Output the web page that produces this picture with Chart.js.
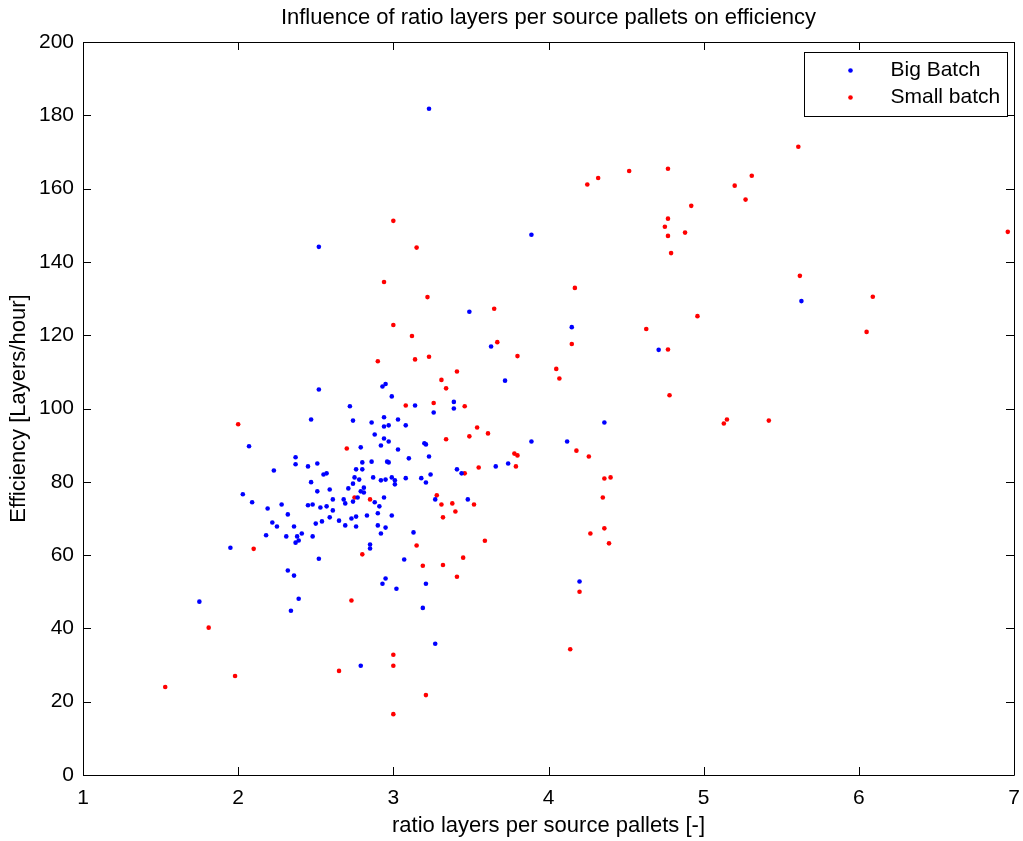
<!DOCTYPE html>
<html>
<head>
<meta charset="utf-8">
<title>Influence of ratio layers per source pallets on efficiency</title>
<script src="https://cdn.jsdelivr.net/npm/chart.js@4"></script>
<style>
  html, body { margin: 0; padding: 0; background: #fff; }
  #efficiencyChart { display: block; }
</style>
</head>
<body>
<canvas id="efficiencyChart" width="1023" height="841"></canvas>
<script>
// Big batch measurements: ratio layers per source pallet vs. layers/hour
const bigBatchRatio = [
    2.52, 2.47, 2.07, 2.37, 2.37, 2.45, 2.51, 2.23, 2.47, 2.51, 2.03,
    2.93, 2.95, 2.99, 2.72, 3.14, 3.39, 3.39, 3.26, 2.74, 2.86, 2.94, 2.94, 2.97, 3.03,
    3.08, 2.88, 2.94, 2.97, 2.92, 3.03, 2.79, 3.20, 3.21, 3.10, 3.23, 2.80, 2.86, 2.96,
    2.97, 2.76, 2.80, 3.41, 3.44, 3.24, 2.55, 2.57, 2.75, 2.78, 2.87, 2.92, 2.95, 2.99,
    3.01, 3.01, 3.08, 3.18, 3.21, 2.74, 2.81, 2.59, 2.71, 2.79, 2.81, 2.77, 2.94, 2.61,
    2.68, 3.27,
    2.09, 2.19, 2.28, 2.45, 2.48, 2.32, 2.22, 2.25, 2.36, 2.50, 2.18, 2.31, 2.38, 2.41,
    2.39, 2.37, 2.48, 1.95, 2.52, 2.32, 2.36, 2.39, 2.34, 1.75,
    2.69, 2.74, 3.48, 2.53, 2.57, 2.61, 2.59, 2.65, 2.73, 2.76, 2.83, 2.88, 2.91, 2.90,
    2.99, 2.54, 2.69, 2.76, 2.90, 2.95, 2.92, 3.13, 2.85, 2.85, 3.07, 2.95, 2.93, 3.02,
    3.21, 3.19,
    2.79, 3.27,
    3.23, 2.52, 3.89, 3.49,
    3.63, 4.71, 3.72, 3.89, 4.12, 4.36, 3.66, 3.74, 4.20,
    5.63, 4.15
];
const bigBatchEfficiency = [
    105.2, 97.0, 89.7, 86.7, 84.8, 84.2, 85.0, 83.1, 79.9, 77.4, 76.6,
    106.0, 106.7, 103.3, 100.6, 100.8, 101.8, 100.0, 98.9, 96.7, 96.2, 97.6, 95.1, 95.4, 97.0,
    95.4, 92.9, 91.8, 91.0, 89.9, 88.8, 89.4, 90.5, 90.2, 86.4, 86.9, 85.3, 85.5, 85.5,
    85.3, 83.4, 83.4, 83.4, 82.3, 82.0, 82.0, 82.3, 81.2, 80.6, 81.2, 80.4, 80.6, 81.2,
    80.4, 79.3, 81.0, 81.0, 79.8, 79.5, 78.4, 77.9, 78.2, 77.4, 77.1, 75.7, 75.7, 75.2,
    75.2, 75.2,
    74.4, 72.7, 73.8, 73.6, 73.8, 71.1, 68.9, 67.8, 67.8, 68.6, 65.4, 65.1, 65.1, 65.9,
    64.0, 63.4, 65.1, 62.0, 59.0, 55.8, 54.4, 48.1, 44.8, 47.3,
    74.1, 74.6, 75.2, 73.0, 73.3, 72.2, 70.3, 69.4, 70.0, 70.5, 70.8, 74.4, 73.3, 71.4,
    70.8, 69.2, 68.1, 67.8, 68.1, 67.5, 65.9, 66.2, 62.9, 61.8, 58.8, 53.6, 52.2, 50.8,
    52.2, 45.6,
    29.8, 35.8,
    181.8, 144.1, 147.4, 126.4,
    116.9, 116.0, 107.6, 91.0, 91.0, 96.2, 84.2, 85.0, 52.8,
    129.3, 122.2
];

// Small batch measurements
const smallBatchRatio = [
    2.00, 2.90, 3.14, 3.23, 3.41, 3.31, 3.34, 3.08, 3.26, 3.46, 2.70, 3.34, 3.49, 3.46,
    2.75, 2.85, 3.28,
    2.10, 1.81,
    3.31, 3.38, 3.40, 3.32, 2.80, 3.15, 3.19, 3.32, 3.45, 3.41, 2.73,
    1.53, 1.98, 2.65, 3.00, 3.00, 3.00, 3.21,
    3.00, 3.15, 2.94, 3.22, 3.65, 3.00, 3.12,
    3.67, 4.15, 3.80, 4.05, 4.07, 3.54, 3.61, 4.18, 4.26, 3.78, 3.80, 3.79, 3.55, 4.36,
    4.40, 4.35, 3.52, 4.36, 4.27, 4.39, 3.59, 4.20, 4.14,
    5.61, 4.25, 4.32, 4.52, 4.77, 5.20, 5.31, 5.27, 4.92, 4.77, 4.75, 4.77, 4.88, 4.79,
    5.62, 4.17, 4.96, 4.63, 4.77,
    6.05, 4.78, 5.13, 5.15, 5.42,
    6.96, 6.09
];
const smallBatchEfficiency = [
    95.7, 112.9, 113.4, 114.1, 110.1, 107.8, 105.5, 100.8, 101.5, 100.6, 89.1, 91.6, 92.4, 82.3,
    75.7, 75.2, 76.3,
    61.7, 40.2,
    73.8, 74.1, 71.9, 70.3, 60.2, 62.6, 57.1, 57.3, 59.3, 54.1, 47.6,
    24.0, 27.0, 28.4, 32.8, 29.8, 16.6, 21.8,
    151.2, 143.9, 134.5, 130.4, 127.2, 122.8, 119.8,
    118.1, 117.6, 114.3, 110.8, 108.2, 94.8, 93.2, 88.5, 86.9, 87.7, 87.2, 84.2, 83.9, 80.9,
    81.2, 75.7, 73.8, 67.3, 65.9, 63.2, 63.9, 50.0, 34.3,
    171.4, 161.1, 162.9, 164.8, 165.4, 160.8, 163.5, 157.0, 155.3, 151.8, 149.6, 147.1, 148.0, 142.4,
    136.2, 132.9, 125.2, 121.7, 116.1,
    120.9, 103.6, 95.9, 97.0, 96.7,
    148.2, 130.5
];

const xTicks = [1, 2, 3, 4, 5, 6, 7];
const yTicks = [0, 20, 40, 60, 80, 100, 120, 140, 160, 180, 200];

const FONT = "'Liberation Sans', Arial, Helvetica, sans-serif";

function toPoints(xs, ys) {
    return xs.map((x, i) => ({ x: x, y: ys[i] }));
}

// box around the axes with inward tick marks on all four sides
const axesFrame = {
    id: 'axesFrame',
    afterDraw(chart) {
        const ctx = chart.ctx;
        const area = chart.chartArea;
        const xs = chart.scales.x;
        const ys = chart.scales.y;
        const len = 8;
        ctx.save();
        ctx.strokeStyle = '#000';
        ctx.lineWidth = 1;
        ctx.beginPath();
        ctx.rect(Math.round(area.left) + 0.5, Math.round(area.top) + 0.5,
                 Math.round(area.right - area.left), Math.round(area.bottom - area.top));
        xTicks.forEach(v => {
            const px = Math.round(xs.getPixelForValue(v)) + 0.5;
            ctx.moveTo(px, area.bottom);
            ctx.lineTo(px, area.bottom - len);
            ctx.moveTo(px, area.top);
            ctx.lineTo(px, area.top + len);
        });
        yTicks.forEach(v => {
            const py = Math.round(ys.getPixelForValue(v)) + 0.5;
            ctx.moveTo(area.left, py);
            ctx.lineTo(area.left + len, py);
            ctx.moveTo(area.right, py);
            ctx.lineTo(area.right - len, py);
        });
        ctx.stroke();
        ctx.restore();
    }
};

// boxed legend in the upper right corner of the axes
const boxedLegend = {
    id: 'boxedLegend',
    afterDraw(chart) {
        const ctx = chart.ctx;
        const area = chart.chartArea;
        const w = 203, h = 64;
        const left = Math.round(area.right - w - 7) + 0.5;
        const top = Math.round(area.top + 10) + 0.5;
        ctx.save();
        ctx.fillStyle = '#fff';
        ctx.fillRect(left, top, w, h);
        ctx.strokeStyle = '#000';
        ctx.lineWidth = 1;
        ctx.strokeRect(left, top, w, h);
        ctx.font = '21px ' + FONT;
        ctx.textBaseline = 'middle';
        chart.data.datasets.forEach((ds, i) => {
            const cy = top + 18 + i * 27;
            ctx.fillStyle = ds.backgroundColor;
            ctx.beginPath();
            ctx.arc(left + 46, cy, 2.3, 0, Math.PI * 2);
            ctx.fill();
            ctx.fillStyle = '#000';
            ctx.fillText(ds.label, left + 86, cy);
        });
        ctx.restore();
    }
};

new Chart(document.getElementById('efficiencyChart'), {
    type: 'scatter',
    data: {
        datasets: [
            {
                label: 'Big Batch',
                data: toPoints(bigBatchRatio, bigBatchEfficiency),
                backgroundColor: '#0000ff',
                borderWidth: 0,
                pointRadius: 2.3
            },
            {
                label: 'Small batch',
                data: toPoints(smallBatchRatio, smallBatchEfficiency),
                backgroundColor: '#ff0000',
                borderWidth: 0,
                pointRadius: 2.3
            }
        ]
    },
    options: {
        responsive: false,
        animation: false,
        events: [],
        layout: { padding: { left: 0, right: 9, top: 0, bottom: 0 } },
        plugins: {
            legend: { display: false },
            tooltip: { enabled: false },
            title: {
                display: true,
                // centred over the axes rather than the whole canvas
                fullSize: false,
                text: 'Influence of ratio layers per source pallets on efficiency',
                color: '#000',
                font: { family: FONT, size: 22, weight: 'normal' },
                padding: { top: 5, bottom: 10.6 }
            }
        },
        scales: {
            x: {
                type: 'linear',
                min: 1,
                max: 7,
                afterBuildTicks: (scale) => { scale.ticks = xTicks.map(v => ({ value: v })); },
                grid: { display: false, drawTicks: false },
                border: { display: false },
                ticks: {
                    color: '#000',
                    padding: 11,
                    maxRotation: 0,
                    font: { family: FONT, size: 21 }
                },
                title: {
                    display: true,
                    text: 'ratio layers per source pallets [-]',
                    color: '#000',
                    font: { family: FONT, size: 22 },
                    padding: { top: 0, bottom: 2 }
                },
                afterFit: (scale) => {
                    scale.height = 66;
                    // edge labels fit in the margins already
                    scale.paddingLeft = 0;
                    scale.paddingRight = 0;
                }
            },
            y: {
                type: 'linear',
                min: 0,
                max: 200,
                afterBuildTicks: (scale) => { scale.ticks = yTicks.map(v => ({ value: v })); },
                grid: { display: false, drawTicks: false },
                border: { display: false },
                ticks: {
                    color: '#000',
                    padding: 9,
                    font: { family: FONT, size: 21 }
                },
                title: {
                    display: true,
                    text: 'Efficiency [Layers/hour]',
                    color: '#000',
                    font: { family: FONT, size: 22 },
                    padding: { top: 6, bottom: 0 }
                },
                afterFit: (scale) => { scale.width = 83; }
            }
        }
    },
    plugins: [axesFrame, boxedLegend]
});
</script>
</body>
</html>
